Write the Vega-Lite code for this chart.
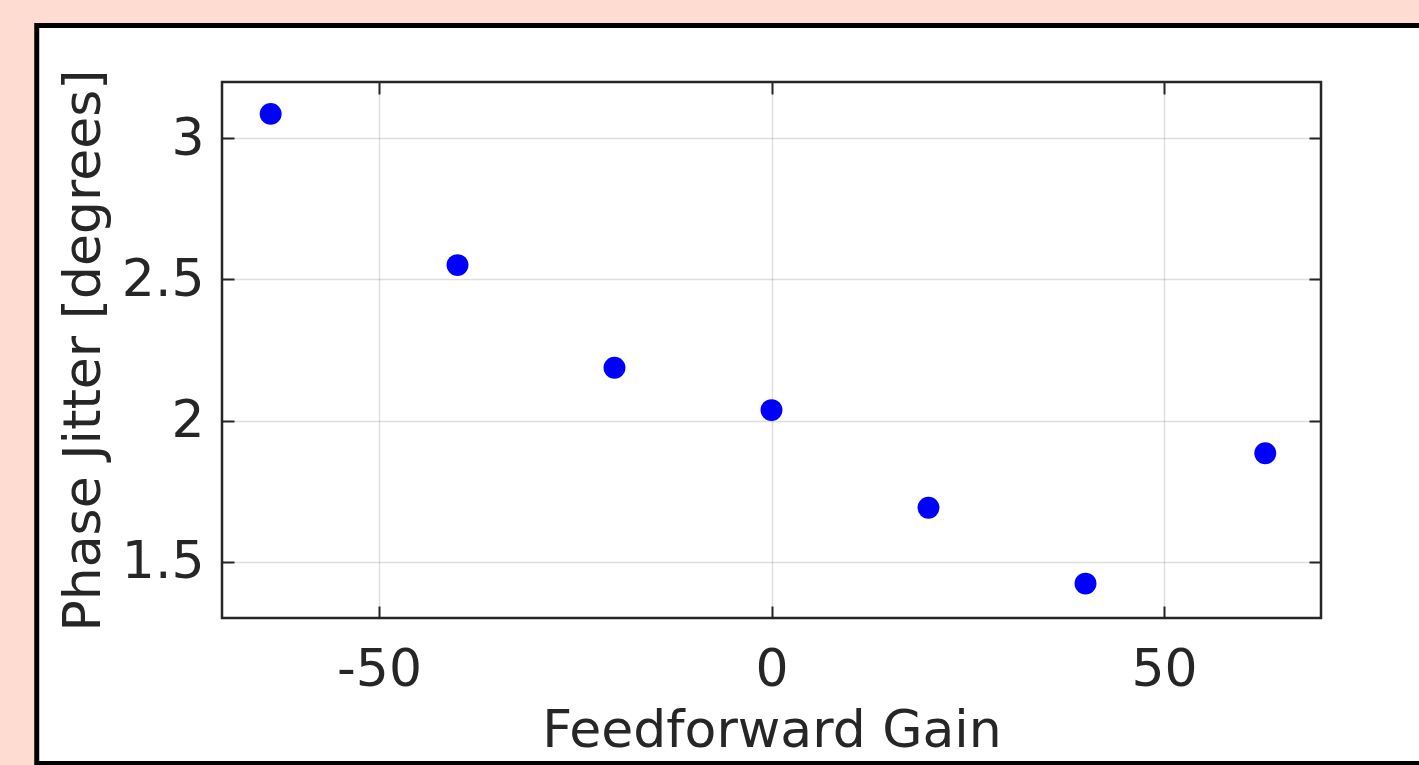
{
  "$schema": "https://vega.github.io/schema/vega-lite/v6.json",
  "autosize": "none",
  "width": 1099,
  "height": 536,
  "padding": {"left": 222, "top": 82, "right": 98, "bottom": 147},
  "background": "white",
  "config": {
    "view": {"stroke": "#262626", "strokeWidth": 2.5, "fill": "white"},
    "axis": {
      "labelFont": "DejaVu Sans",
      "titleFont": "DejaVu Sans",
      "labelFontSize": 52,
      "titleFontSize": 52,
      "labelColor": "#262626",
      "titleColor": "#262626",
      "titleFontWeight": "normal",
      "domain": false,
      "tickColor": "#262626",
      "tickWidth": 2,
      "tickSize": -12,
      "gridColor": "#262626",
      "gridOpacity": 0.15,
      "gridWidth": 1.5
    }
  },
  "layer": [
    {
      "data": {"values": [
        {"x1": -300, "x2": -93.6, "y1": -5, "y2": 10},
        {"x1": -300, "x2": 300, "y1": 3.4, "y2": 10}
      ]},
      "mark": {"type": "rect", "fill": "#fedcd1", "clip": false},
      "encoding": {
        "x": {"field": "x1", "type": "quantitative", "scale": {"domain": [-70, 70], "nice": false, "zero": false}, "axis": null},
        "x2": {"field": "x2"},
        "y": {"field": "y1", "type": "quantitative", "scale": {"domain": [1.3, 3.2], "nice": false, "zero": false}, "axis": null},
        "y2": {"field": "y2"}
      }
    },
    {
      "data": {"values": [
        {"x1": -93.6, "x2": 100, "y1": 0.784, "y2": 3.4}
      ]},
      "mark": {"type": "rect", "fill": null, "fillOpacity": 0, "stroke": "black", "strokeWidth": 5, "clip": false},
      "encoding": {
        "x": {"field": "x1", "type": "quantitative", "scale": {"domain": [-70, 70], "nice": false, "zero": false},
          "axis": {"orient": "top", "labels": false, "title": null, "grid": false, "values": [-50, 0, 50]}},
        "x2": {"field": "x2"},
        "y": {"field": "y1", "type": "quantitative", "scale": {"domain": [1.3, 3.2], "nice": false, "zero": false},
          "axis": {"orient": "right", "labels": false, "title": null, "grid": false, "values": [1.5, 2, 2.5, 3]}},
        "y2": {"field": "y2"}
      }
    },
    {
      "data": {"values": [
        {"gain": -63.8, "jitter": 3.087},
        {"gain": -40, "jitter": 2.551},
        {"gain": -20, "jitter": 2.187},
        {"gain": 0, "jitter": 2.037},
        {"gain": 20, "jitter": 1.691},
        {"gain": 40, "jitter": 1.422},
        {"gain": 62.9, "jitter": 1.884}
      ]},
      "mark": {"type": "point", "filled": true, "shape": "circle", "size": 480, "color": "#0000ff", "opacity": 1, "clip": false},
      "encoding": {
        "x": {"field": "gain", "type": "quantitative", "scale": {"domain": [-70, 70], "nice": false, "zero": false},
          "axis": {"orient": "bottom", "title": "Feedforward Gain", "grid": true, "values": [-50, 0, 50], "labelExpr": "replace(datum.label, '\u2212', '-')", "labelPadding": 38, "titlePadding": 10}},
        "y": {"field": "jitter", "type": "quantitative", "scale": {"domain": [1.3, 3.2], "nice": false, "zero": false},
          "axis": {"orient": "left", "title": "Phase Jitter [degrees]", "grid": true, "values": [1.5, 2, 2.5, 3], "format": "~g", "labelPadding": 30, "titlePadding": 11}}
      }
    }
  ],
  "resolve": {"axis": {"x": "independent", "y": "independent"}}
}
